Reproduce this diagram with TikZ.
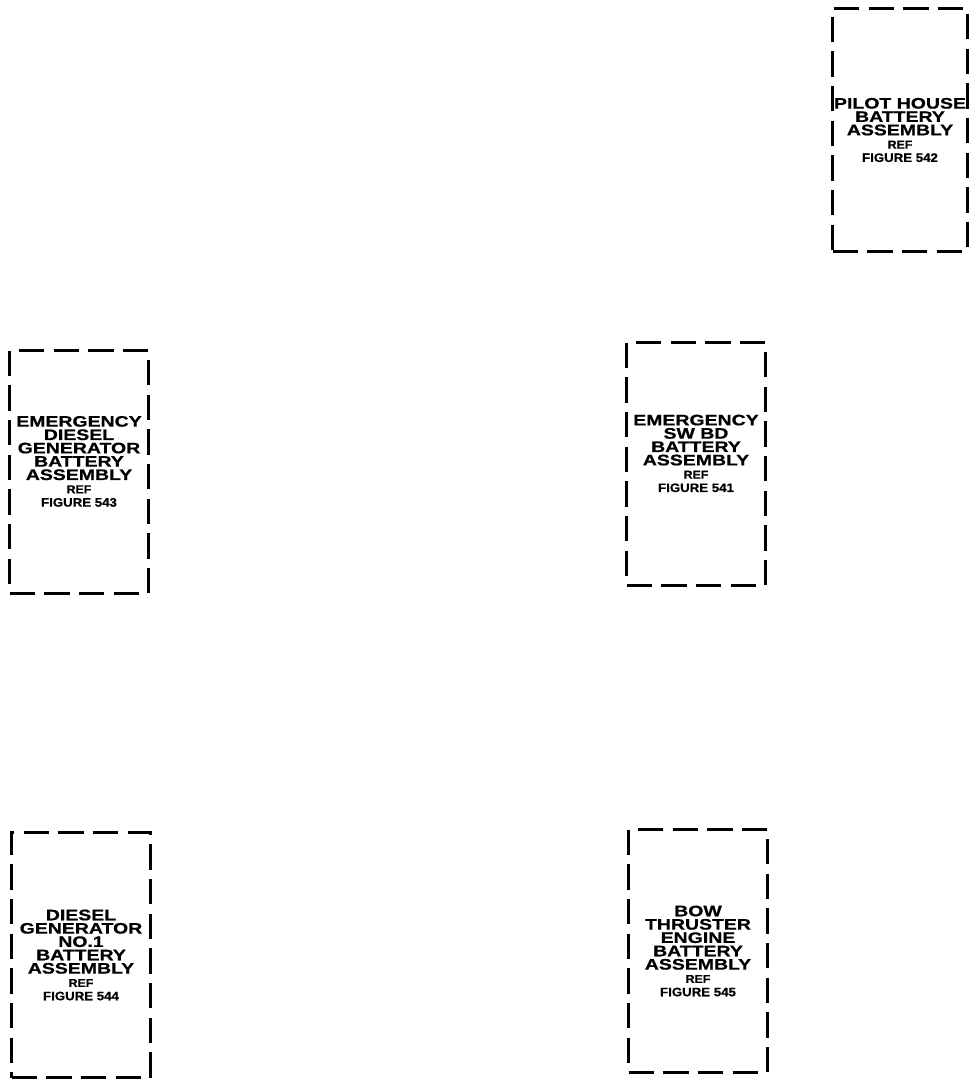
\documentclass[tikz,border=0pt]{standalone}
\usepackage{fontspec}
\newfontfamily\platefont[FakeStretch=1.28,FakeBold=0.8]{Liberation Sans}
\newfontfamily\platesmall[FakeStretch=1.08,FakeBold=0.6]{Liberation Sans}
\newcommand\refline[1]{{\platesmall\bfseries\fontsize{8.6}{9}\selectfont #1}}
\newcommand\figline[1]{{\platesmall\bfseries\fontsize{9.2}{9}\selectfont #1}}
\begin{document}
\begin{tikzpicture}[x=0.75pt,y=-0.75pt,
  battbox/.style={draw,line width=2pt,dash pattern=on 19pt off 7pt,
    minimum width=104pt,minimum height=182pt,inner sep=0pt,align=center,
    font=\platefont\bfseries\fontsize{11.4}{10}\selectfont}]
  \useasboundingbox (0,0) rectangle (969,1081);
  % battery assemblies
  \node[battbox,minimum width=101pt] (pilot) at (900,130)
    {PILOT HOUSE\\BATTERY\\ASSEMBLY\\\refline{REF}\\\figline{FIGURE 542}};
  \node[battbox,text depth=16pt] (emdiesel) at (79,472)
    {EMERGENCY\\DIESEL\\GENERATOR\\BATTERY\\ASSEMBLY\\\refline{REF}\\\figline{FIGURE 543}};
  \node[battbox,text depth=16pt] (swbd) at (696,464)
    {EMERGENCY\\SW BD\\BATTERY\\ASSEMBLY\\\refline{REF}\\\figline{FIGURE 541}};
  \node[battbox,minimum height=184pt] (dieselgen) at (81,955)
    {DIESEL\\GENERATOR\\NO.1\\BATTERY\\ASSEMBLY\\\refline{REF}\\\figline{FIGURE 544}};
  \node[battbox] (bow) at (698,951)
    {BOW\\THRUSTER\\ENGINE\\BATTERY\\ASSEMBLY\\\refline{REF}\\\figline{FIGURE 545}};
\end{tikzpicture}
\end{document}
